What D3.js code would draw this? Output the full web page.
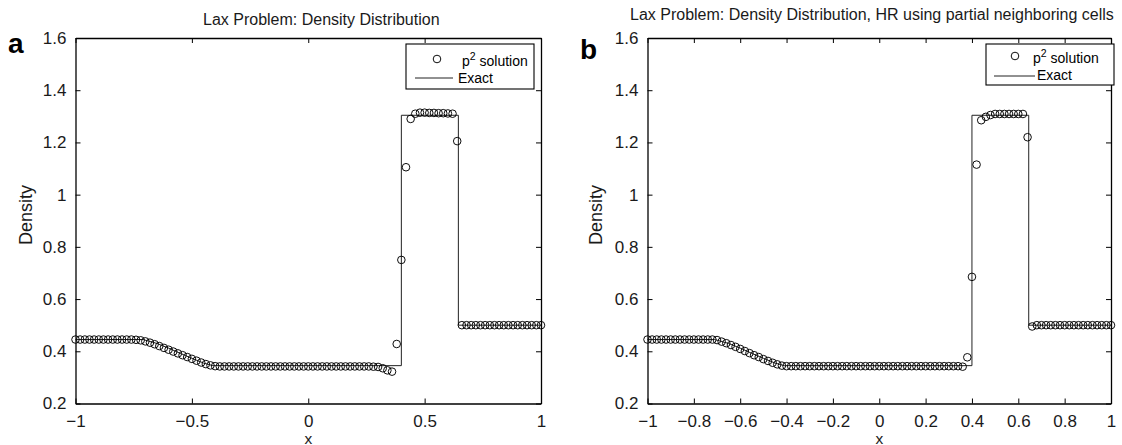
<!DOCTYPE html>
<html>
<head>
<meta charset="utf-8">
<script src="https://cdnjs.cloudflare.com/ajax/libs/d3/7.8.5/d3.min.js"></script>
<style>
body{margin:0;background:#fff}
svg{display:block;font-family:"Liberation Sans",Arial,sans-serif}
</style>
</head>
<body>
<script>
// cell nodes, same for both panels
var xNodes = [
  -1,-0.98,-0.96,-0.94,-0.92,-0.9,-0.88,-0.86,-0.84,-0.82,
  -0.8,-0.78,-0.76,-0.74,-0.72,-0.7,-0.68,-0.66,-0.64,-0.62,
  -0.6,-0.58,-0.56,-0.54,-0.52,-0.5,-0.48,-0.46,-0.44,-0.42,
  -0.4,-0.38,-0.36,-0.34,-0.32,-0.3,-0.28,-0.26,-0.24,-0.22,
  -0.2,-0.18,-0.16,-0.14,-0.12,-0.1,-0.08,-0.06,-0.04,-0.02,
  0,0.02,0.04,0.06,0.08,0.1,0.12,0.14,0.16,0.18,
  0.2,0.22,0.24,0.26,0.28,0.3,0.32,0.34,0.36,0.38,
  0.4,0.42,0.44,0.46,0.48,0.5,0.52,0.54,0.56,0.58,
  0.6,0.62,0.64,0.66,0.68,0.7,0.72,0.74,0.76,0.78,
  0.8,0.82,0.84,0.86,0.88,0.9,0.92,0.94,0.96,0.98,
  1
]

// panel a: p2 solution
var rhoA = [
  0.445,0.445,0.445,0.445,0.445,0.445,0.445,0.445,0.445,0.445,
  0.445,0.445,0.445,0.444,0.442,0.438,0.433,0.427,0.420,0.413,
  0.406,0.399,0.392,0.385,0.378,0.371,0.364,0.357,0.351,0.346,
  0.343,0.342,0.342,0.342,0.342,0.342,0.342,0.342,0.342,0.342,
  0.342,0.342,0.342,0.342,0.342,0.342,0.342,0.342,0.342,0.342,
  0.342,0.342,0.342,0.342,0.342,0.342,0.342,0.342,0.342,0.342,
  0.342,0.342,0.342,0.342,0.341,0.340,0.335,0.327,0.322,0.428,
  0.750,1.105,1.290,1.310,1.314,1.314,1.313,1.313,1.312,1.312,
  1.311,1.310,1.205,0.500,0.500,0.500,0.500,0.500,0.500,0.500,
  0.500,0.500,0.500,0.500,0.500,0.500,0.500,0.500,0.500,0.500,
  0.500
]

// panel b: HR using partial neighboring cells
var rhoB = [
  0.445,0.445,0.445,0.445,0.445,0.445,0.445,0.445,0.445,0.445,
  0.445,0.445,0.445,0.445,0.445,0.443,0.437,0.431,0.424,0.417,
  0.409,0.401,0.393,0.385,0.378,0.370,0.363,0.356,0.350,0.345,
  0.343,0.343,0.343,0.343,0.343,0.343,0.343,0.343,0.343,0.343,
  0.343,0.343,0.343,0.343,0.343,0.343,0.343,0.343,0.343,0.343,
  0.343,0.343,0.343,0.343,0.343,0.343,0.343,0.343,0.343,0.343,
  0.343,0.343,0.343,0.343,0.343,0.343,0.343,0.343,0.341,0.377,
  0.685,1.115,1.285,1.298,1.305,1.309,1.309,1.309,1.309,1.309,
  1.309,1.309,1.220,0.495,0.500,0.500,0.500,0.500,0.500,0.500,
  0.500,0.500,0.500,0.500,0.500,0.500,0.500,0.500,0.500,0.500,
  0.500
]

// exact solution (piecewise)
var exactX   = [-1, -0.71, -0.65, -0.6, -0.55, -0.5, -0.45, -0.41, 0.40, 0.40, 0.645, 0.645, 1]
var exactRho = [0.445, 0.445, 0.430, 0.412, 0.392, 0.373, 0.355, 0.345, 0.345, 1.304, 1.304, 0.5, 0.5]

var yTicks = [0.2, 0.4, 0.6, 0.8, 1, 1.2, 1.4, 1.6]
var yTickLabels = ["0.2", "0.4", "0.6", "0.8", "1", "1.2", "1.4", "1.6"]
var xTicksA = [-1, -0.5, 0, 0.5, 1]
var xTickLabelsA = ["\u22121", "\u22120.5", "0", "0.5", "1"]
var xTicksB = [-1, -0.8, -0.6, -0.4, -0.2, 0, 0.2, 0.4, 0.6, 0.8, 1]
var xTickLabelsB = ["\u22121", "\u22120.8", "\u22120.6", "\u22120.4", "\u22120.2", "0", "0.2", "0.4", "0.6", "0.8", "1"]

var svg = d3.select("body").append("svg")
  .attr("width", 1122)
  .attr("height", 445)

var drawPanel = function(opt)
{
  var x = d3.scaleLinear().domain([-1, 1]).range([opt.left, opt.right])
  var y = d3.scaleLinear().domain([0.2, 1.6]).range([403.5, 38])
  var g = svg.append("g")

  var fmtX = function(d){ return opt.xLabels[opt.xTicks.indexOf(d)] }
  var fmtY = function(d){ return yTickLabels[yTicks.indexOf(d)] }

  var axes = [
    [d3.axisBottom(x).tickValues(opt.xTicks).tickFormat(fmtX).tickPadding(11), "translate(0,403.5)"],
    [d3.axisTop(x).tickValues(opt.xTicks).tickFormat(""), "translate(0,38)"],
    [d3.axisLeft(y).tickValues(yTicks).tickFormat(fmtY).tickPadding(9), "translate(" + opt.left + ",0)"],
    [d3.axisRight(y).tickValues(yTicks).tickFormat(""), "translate(" + opt.right + ",0)"]
  ]
  axes.forEach(function(a)
  {
    var ax = g.append("g")
      .attr("transform", a[1])
      .call(a[0].tickSizeInner(-5).tickSizeOuter(0))
      .attr("font-size", 17)
      .attr("font-family", "Liberation Sans, Arial, sans-serif")
    ax.select(".domain").attr("stroke", "#000").attr("stroke-width", 1.3)
    ax.selectAll(".tick line").attr("stroke", "#000").attr("stroke-width", 1)
    ax.selectAll(".tick text").attr("fill", "#1a1a1a")
  })

  var line = d3.line()
    .x(function(d){ return x(d[0]) })
    .y(function(d){ return y(d[1]) })

  g.append("path")
    .datum(d3.zip(exactX, exactRho))
    .attr("d", line)
    .attr("fill", "none")
    .attr("stroke", "#222")
    .attr("stroke-width", 1)

  g.append("g")
    .selectAll("circle")
    .data(d3.zip(xNodes, opt.rho))
    .join("circle")
    .attr("cx", function(d){ return x(d[0]) })
    .attr("cy", function(d){ return y(d[1]) })
    .attr("r", 3.8)
    .attr("fill", "none")
    .attr("stroke", "#000")
    .attr("stroke-width", 0.95)

  // legend
  var L = opt.legend
  g.append("rect")
    .attr("x", L.x).attr("y", L.y)
    .attr("width", L.w).attr("height", L.h)
    .attr("fill", "#fff")
    .attr("stroke", "#000")
    .attr("stroke-width", 1.1)
  g.append("circle")
    .attr("cx", L.cx).attr("cy", L.cy).attr("r", 3.8)
    .attr("fill", "none").attr("stroke", "#000").attr("stroke-width", 0.95)
  g.append("line")
    .attr("x1", L.lx1).attr("x2", L.lx2)
    .attr("y1", L.ly).attr("y2", L.ly)
    .attr("stroke", "#222").attr("stroke-width", 1)
  var t1 = g.append("text")
    .attr("x", L.tx1).attr("y", L.ty1)
    .attr("font-size", 14)
  t1.append("tspan").text("p")
  t1.append("tspan").attr("dy", -6).attr("font-size", 10.5).text("2")
  t1.append("tspan").attr("dy", 6).text(" solution")
  g.append("text")
    .attr("x", L.tx2).attr("y", L.ty2)
    .attr("font-size", 14)
    .text("Exact")

  // titles and labels
  g.append("text")
    .attr("x", opt.titleX).attr("y", opt.titleY)
    .attr("font-size", 16)
    .attr("fill", "#1a1a1a")
    .text(opt.title)
  g.append("text")
    .attr("x", opt.tagX).attr("y", opt.tagY)
    .attr("font-size", 28)
    .attr("font-weight", "bold")
    .text(opt.tag)
  g.append("text")
    .attr("x", (opt.left + opt.right) / 2).attr("y", 443.5)
    .attr("text-anchor", "middle")
    .attr("font-size", 15.5)
    .attr("fill", "#1a1a1a")
    .text("x")
  g.append("text")
    .attr("transform", "translate(" + opt.ylabX + ",215) rotate(-90)")
    .attr("text-anchor", "middle")
    .attr("font-size", 18)
    .attr("fill", "#1a1a1a")
    .text("Density")
}

drawPanel({
  left: 75.5, right: 541,
  xTicks: xTicksA, xLabels: xTickLabelsA,
  rho: rhoA,
  title: "Lax Problem: Density Distribution",
  titleX: 203, titleY: 25,
  tag: "a", tagX: 8, tagY: 53,
  ylabX: 32,
  legend: {x: 406, y: 44, w: 128, h: 45, cx: 437, cy: 59, lx1: 415, lx2: 453, ly: 78,
           tx1: 462, ty1: 66, tx2: 458, ty2: 83}
})

drawPanel({
  left: 647.5, right: 1111,
  xTicks: xTicksB, xLabels: xTickLabelsB,
  rho: rhoB,
  title: "Lax Problem: Density Distribution, HR using partial neighboring cells",
  titleX: 630, titleY: 20,
  tag: "b", tagX: 580, tagY: 59,
  ylabX: 602,
  legend: {x: 986, y: 44, w: 128, h: 41, cx: 1015, cy: 56, lx1: 994, lx2: 1035, ly: 76,
           tx1: 1033, ty1: 63, tx2: 1037, ty2: 80}
})
</script>
</body>
</html>
